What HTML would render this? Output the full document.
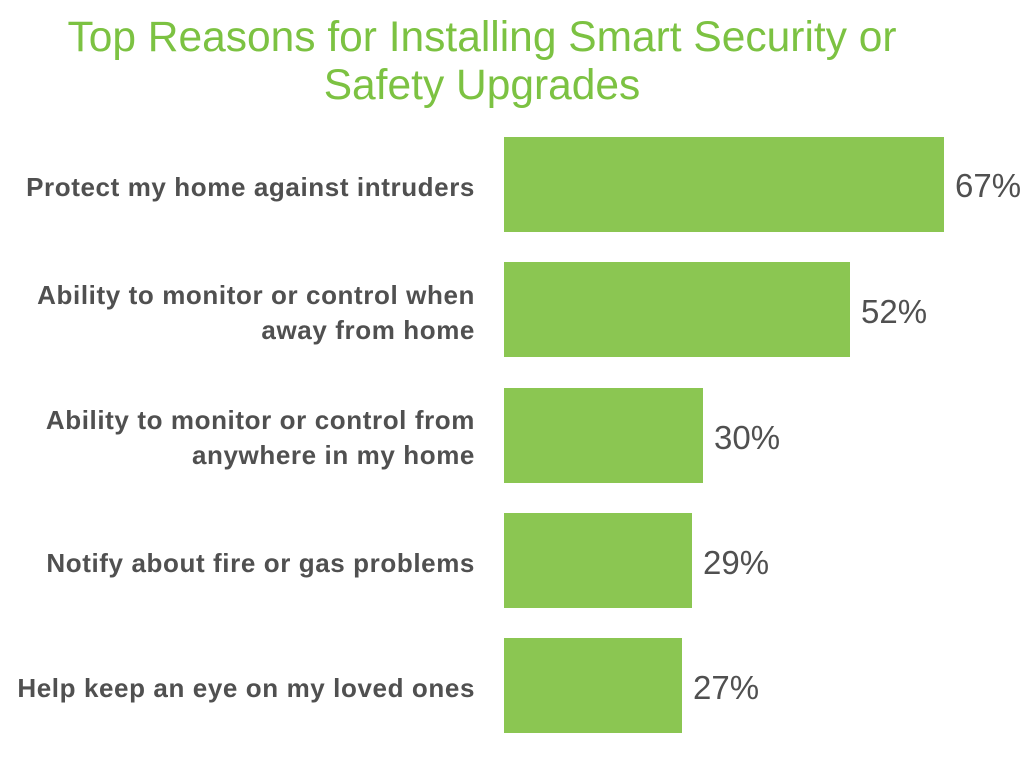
<!DOCTYPE html>
<html><head><meta charset="utf-8"><style>
body{margin:0;width:1024px;height:768px;background:#fff;position:relative;overflow:hidden;font-family:"Liberation Sans",sans-serif}
.t{position:absolute;left:0;width:964px;text-align:center;color:#7cc242;font-size:42.5px;line-height:48px}
.bar{position:absolute;left:504px;height:95px;background:#8bc652}
.lab{position:absolute;right:549px;text-align:right;color:#505050;font-size:26px;letter-spacing:0.6px;font-weight:bold;line-height:35px;white-space:nowrap}
.p{position:absolute;color:#505050;font-size:33px;line-height:36px}
</style></head><body>
<div class="t" style="top:14px">Top Reasons for Installing Smart Security or</div>
<div class="t" style="top:62px">Safety Upgrades</div>

<div class="bar" style="top:137px;width:440px"></div>
<div class="bar" style="top:262px;width:346px"></div>
<div class="bar" style="top:388px;width:199px"></div>
<div class="bar" style="top:513px;width:188px"></div>
<div class="bar" style="top:638px;width:178px"></div>

<div class="lab" style="top:170px">Protect my home against intruders</div>
<div class="lab" style="top:278px">Ability to monitor or control when<br>away from home</div>
<div class="lab" style="top:403px">Ability to monitor or control from<br>anywhere in my home</div>
<div class="lab" style="top:546px">Notify about fire or gas problems</div>
<div class="lab" style="top:671px">Help keep an eye on my loved ones</div>

<div class="p" style="left:955px;top:168px">67%</div>
<div class="p" style="left:861px;top:294px">52%</div>
<div class="p" style="left:714px;top:420px">30%</div>
<div class="p" style="left:703px;top:545px">29%</div>
<div class="p" style="left:693px;top:670px">27%</div>
</body></html>
